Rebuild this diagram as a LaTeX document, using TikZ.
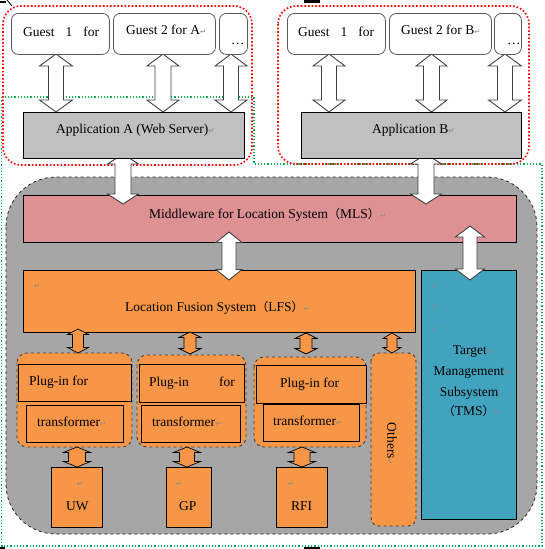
\documentclass[tikz,border=0pt]{standalone}
\usepackage{fontspec}
\setmainfont{Liberation Serif}
\newfontfamily\cjkf{Noto Sans CJK SC}
\newfontfamily\symf{DejaVu Sans}
\usetikzlibrary{calc}
\definecolor{grayback}{RGB}{166,166,166}
\definecolor{appgray}{RGB}{192,192,192}
\definecolor{mlspink}{RGB}{221,145,147}
\definecolor{orng}{RGB}{247,150,70}
\definecolor{tmsblue}{RGB}{66,163,190}
\definecolor{dotgreen}{RGB}{0,176,80}
\newcommand\retm{{\symf\fontsize{7.5}{8}\selectfont\color{black!45}↵}}
\newcommand\lp{{\cjkf\fontsize{12}{13}\selectfont （}}
\newcommand\rp{{\cjkf\fontsize{12}{13}\selectfont ）}}
\newcommand\varr[7]{%
  \draw[#7] (#1,#2) -- (#1+#5,#2+#6) -- (#1+#4,#2+#6) -- (#1+#4,#3-#6)
    -- (#1+#5,#3-#6) -- (#1,#3) -- (#1-#5,#3-#6) -- (#1-#4,#3-#6)
    -- (#1-#4,#2+#6) -- (#1-#5,#2+#6) -- cycle;}
\tikzset{
  guestbox/.style={draw=black!65,fill=white,rounded corners=7pt,line width=0.8pt},
  appbox/.style={draw=black,fill=appgray,line width=0.8pt},
  obox/.style={draw=black,fill=orng,line width=0.8pt},
  ogroup/.style={draw=black!75,fill=orng,dashed,line width=0.9pt,rounded corners=10pt},
  warr/.style={draw=black!75,fill=white,line width=0.9pt},
  oarr/.style={draw=black,fill=orng,line width=0.7pt},
  txt/.style={inner sep=0pt,anchor=base west,font=\fontsize{13.5}{15}\selectfont},
  ctxt/.style={inner sep=0pt,anchor=base,font=\fontsize{13.5}{15}\selectfont},
  rmark/.style={inner sep=0pt,anchor=center},
}
\begin{document}
\begin{tikzpicture}[x=1pt,y=-1pt]
\useasboundingbox (0,0) rectangle (545,549);
% artifacts
\fill[black] (304,0) rectangle (320,3);
\fill[black] (304,547) rectangle (320,549);
\fill[black] (0,547) rectangle (5,549);
\draw[black,line width=1.3pt] (0,2) -- (6,2);
\draw[black,line width=0.8pt] (7,0) -- (12,6);
% green dotted outline
\draw[dotgreen,dotted,line width=1.2pt] (1.5,97) -- (254,97) -- (254,164) -- (542,164) -- (542,546) -- (1.5,546) -- cycle;
% red dotted groups
\draw[red,dotted,line width=1.6pt,rounded corners=18pt] (3,6) rectangle (252,165);
\draw[red,dotted,line width=1.6pt,rounded corners=18pt] (278,6) rectangle (529,164);
% grey system box
\draw[black!85,dashed,fill=grayback,line width=0.8pt,rounded corners=50pt] (6,177) rectangle (537,534);
% main boxes
\node[draw=black,fill=mlspink,line width=0.8pt,minimum width=493pt,minimum height=47pt,anchor=north west,inner sep=0pt] (mls) at (23,195) {};
\node[obox,minimum width=392pt,minimum height=62pt,anchor=north west,inner sep=0pt] (lfs) at (23,270) {};
\node[draw=black,fill=tmsblue,line width=0.8pt,minimum width=95pt,minimum height=249pt,anchor=north west,inner sep=0pt] (tms) at (421,270) {};
% arrows apps -> MLS
\varr{123}{154}{204}{8}{15.5}{10}{warr}
\varr{426}{154}{204}{8}{15.5}{10}{warr}
% MLS -> LFS, MLS -> TMS
\varr{229}{232}{280}{7}{13}{10.5}{warr}
\varr{470}{226}{280}{7}{14.5}{11}{warr}
% guest -> app arrows
\varr{56}{54}{112}{7.5}{16.5}{12}{warr}
\varr{163}{54}{112}{8}{16}{12}{warr}
\varr{231}{54}{112}{7.5}{16}{12}{warr}
\varr{329}{54}{112}{7.5}{16}{12}{warr}
\varr{431.5}{54}{112}{8}{15.5}{12}{warr}
\varr{505}{54}{112}{7.5}{16.5}{12}{warr}
% application boxes
\node[appbox,minimum width=221pt,minimum height=46pt,anchor=north west,inner sep=0pt] (appa) at (23,112) {};
\node[appbox,minimum width=220pt,minimum height=46pt,anchor=north west,inner sep=0pt] (appb) at (301,112) {};
% guest boxes
\node[guestbox,minimum width=98pt,minimum height=41pt,anchor=north west,inner sep=0pt] (ga1) at (11,13) {};
\node[guestbox,minimum width=102pt,minimum height=41pt,anchor=north west,inner sep=0pt] (ga2) at (113,13) {};
\node[guestbox,minimum width=28pt,minimum height=41pt,anchor=north west,inner sep=0pt] (ga3) at (219,13) {};
\node[guestbox,minimum width=98pt,minimum height=41pt,anchor=north west,inner sep=0pt] (gb1) at (287,13) {};
\node[guestbox,minimum width=102pt,minimum height=41pt,anchor=north west,inner sep=0pt] (gb2) at (389,13) {};
\node[guestbox,minimum width=27pt,minimum height=41pt,anchor=north west,inner sep=0pt] (gb3) at (494,13) {};
% plug-in groups
\draw[ogroup] (17,353) rectangle (132,447);
\draw[ogroup] (137,355) rectangle (246,447);
\draw[ogroup] (254,357) rectangle (366,447);
\draw[ogroup,rounded corners=8pt] (371,353) rectangle (416,526);
\node[obox,minimum width=113pt,minimum height=37pt,anchor=north west,inner sep=0pt] (p1) at (18,364) {};
\node[obox,minimum width=105pt,minimum height=38pt,anchor=north west,inner sep=0pt] (p2) at (139,364) {};
\node[obox,minimum width=110pt,minimum height=38pt,anchor=north west,inner sep=0pt] (p3) at (256,365) {};
\node[obox,minimum width=97pt,minimum height=37pt,anchor=north west,inner sep=0pt] (t1) at (26,405) {};
\node[obox,minimum width=99pt,minimum height=37pt,anchor=north west,inner sep=0pt] (t2) at (141,405) {};
\node[obox,minimum width=96pt,minimum height=37pt,anchor=north west,inner sep=0pt] (t3) at (263,404) {};
\node[obox,minimum width=51pt,minimum height=60pt,anchor=north west,inner sep=0pt] (uw) at (51,467) {};
\node[obox,minimum width=45pt,minimum height=60pt,anchor=north west,inner sep=0pt] (gp) at (166,467) {};
\node[obox,minimum width=51pt,minimum height=60pt,anchor=north west,inner sep=0pt] (rf) at (276,467) {};
% orange arrows
\varr{78}{329}{353}{5.5}{10.5}{5.5}{oarr}
\varr{190}{332}{354}{6}{11}{5.5}{oarr}
\varr{306}{333}{354}{6}{11}{5.5}{oarr}
\varr{392}{333}{353}{5}{9}{5.5}{oarr}
\varr{77}{447}{467}{8.5}{13.5}{5.5}{oarr}
\varr{187}{447}{467}{7.5}{13.5}{5.5}{oarr}
\varr{302}{447}{467}{8}{13.5}{5.5}{oarr}
% texts: guests
\node[txt] (tga1) at (23,36) {Guest\hspace{11pt}1\hspace{11pt}for};
\node[txt] (tga2) at (126,34) {Guest 2 for A\retm};
\node[txt] (tga3) at (231,44) {\ldots};
\node[txt] (tgb1) at (298,36) {Guest\hspace{11pt}1\hspace{11pt}for};
\node[txt] (tgb2) at (401,34) {Guest 2 for B\retm};
\node[txt] (tgb3) at (507,44) {\ldots};
% apps
\node[txt] (tappa) at (56,133) {Application A (Web Server)\retm};
\node[txt] (tappb) at (372,133) {Application B\retm};
% MLS, LFS
\node[txt] (tmls) at (149,218) {Middleware for Location System\lp MLS\rp\retm};
\node[rmark] (rl0) at (37,286) {\retm};
\node[txt] (tlfs) at (125,311) {Location Fusion System\lp LFS\rp\retm};
% TMS
\node[rmark] (rt1) at (434,287) {\retm};
\node[rmark] (rt2) at (434,307) {\retm};
\node[rmark] (rt3) at (434,329) {\retm};
\node[ctxt] (tt1) at (473,354) {Target\retm};
\node[ctxt] (tt2) at (472,375) {Management\retm};
\node[ctxt] (tt3) at (469,396) {Subsystem};
\node[ctxt] (tt4) at (472,415) {\lp TMS\rp\retm};
% plug-ins
\node[txt] (tp1) at (29,385) {Plug-in for};
\node[txt] (tp2a) at (149,386) {Plug-in};
\node[txt] (tp2b) at (219,386) {for};
\node[txt] (tp3) at (280,387) {Plug-in for};
\node[txt] (tt1x) at (37,426) {transformer\retm};
\node[txt] (tt2x) at (152,426) {transformer\retm};
\node[txt] (tt3x) at (273,425) {transformer\retm};
% devices
\node[rmark] (ru) at (80,484) {\retm};
\node[rmark] (rg) at (179,484) {\retm};
\node[rmark] (rr) at (291,484) {\retm};
\node[txt] (tuw) at (66,510) {UW};
\node[txt] (tgp) at (179,510) {GP};
\node[txt] (trf) at (291,510) {RFI};
% others
\node[inner sep=0pt,rotate=-90,font=\fontsize{13.5}{15}\selectfont] (toth) at (392,444) {Others\retm};
\end{tikzpicture}
\end{document}
